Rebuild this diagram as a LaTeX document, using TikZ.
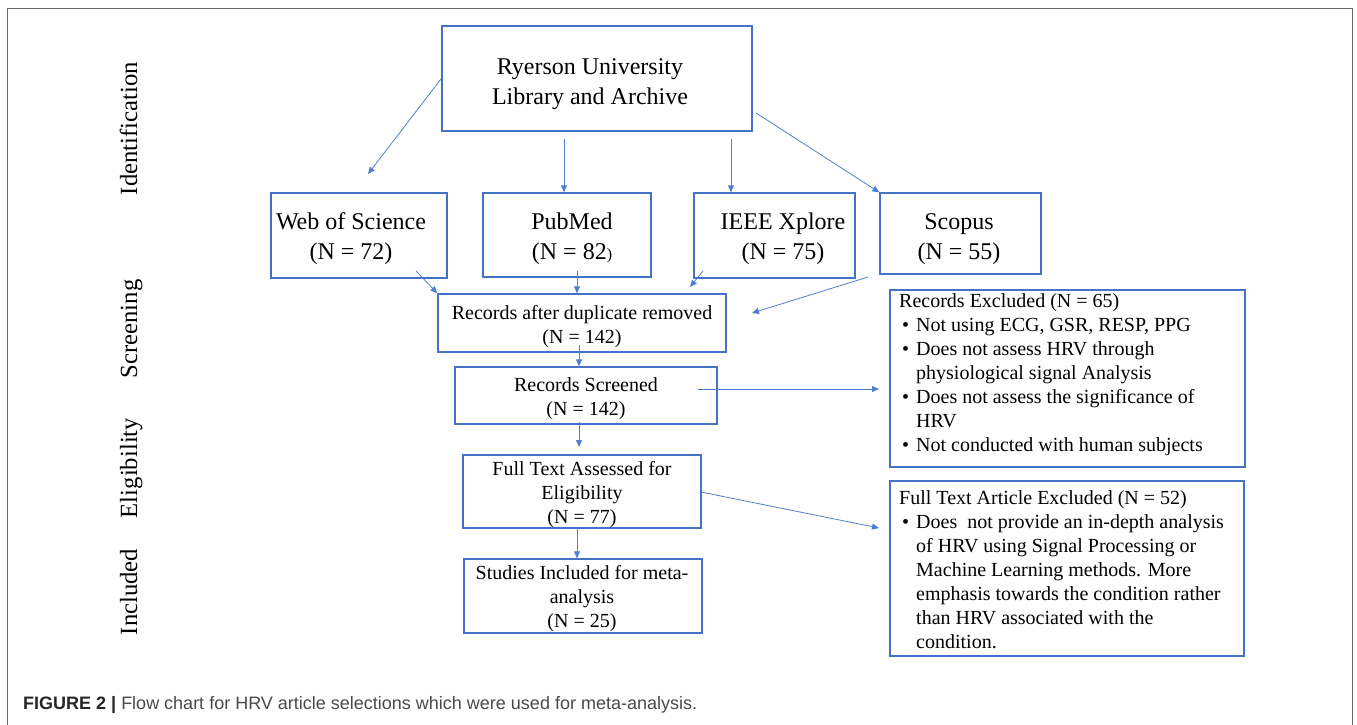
\documentclass[tikz,border=0pt]{standalone}
\usepackage{fontspec}
\setmainfont{Liberation Serif}
\newfontfamily\capfont{Liberation Sans}
\usetikzlibrary{arrows.meta}
\definecolor{boxblue}{HTML}{4472C4}
\definecolor{arrblue}{HTML}{4F7FD0}
\definecolor{framegray}{HTML}{6A6A6A}
\definecolor{capgray}{HTML}{4A4A4A}
\newcommand\mystrut[1]{\rule{0pt}{#1pt}}
\newcommand\bul{\makebox[17pt][l]{\hspace{3pt}•}}
\newcommand\ind{\hspace*{17pt}}
\begin{document}
\begin{tikzpicture}[x=1pt,y=-1pt,
  box/.style={draw=boxblue, line width=1.3pt, inner sep=0pt},
  arr/.style={draw=arrblue, line width=0.8pt, -{Triangle[length=7pt,width=6pt]}},
  frameline/.style={draw=framegray, line width=1pt},
  tbig/.style={font=\fontsize{24}{30}\selectfont, inner sep=0pt, anchor=north, align=center},
  tmid/.style={font=\fontsize{20}{24}\selectfont, inner sep=0pt, anchor=north, align=center},
  tlist/.style={font=\fontsize{20}{24}\selectfont, inner sep=0pt, anchor=north west, align=left},
  lab/.style={rotate=90, anchor=base, inner sep=0pt, font=\fontsize{24.7}{30}\selectfont}]
\useasboundingbox (0,0) rectangle (1357,724);
\fill[white] (0,0) rectangle (1357,724);
\draw[frameline] (7,726) -- (7,8) -- (1352,8) -- (1352,726);

% phase labels
\node[lab] (lid) at (137,128.5) {Identification};
\node[lab] (lsc) at (137,329) {Screening};
\node[lab] (lel) at (137,468) {Eligibility};
\node[lab] (lin) at (137,592) {Included};

% boxes
\node[box, minimum width=310pt, minimum height=105pt] (ry) at (597,78.5) {};
\node[box, minimum width=176pt, minimum height=85pt] (wos) at (359,235.5) {};
\node[box, minimum width=168pt, minimum height=84pt] (pub) at (567,235) {};
\node[box, minimum width=161pt, minimum height=85pt] (ieee) at (774.5,235.5) {};
\node[box, minimum width=161pt, minimum height=81pt] (sco) at (960.5,233.5) {};
\node[box, minimum width=288pt, minimum height=58pt] (dup) at (582,323) {};
\node[box, minimum width=262pt, minimum height=57pt] (scr) at (586,395.5) {};
\node[box, minimum width=238pt, minimum height=73pt] (fta) at (582,491.5) {};
\node[box, minimum width=238pt, minimum height=74pt] (inc) at (583,596) {};
\node[box, minimum width=355pt, minimum height=177pt] (rex) at (1067.5,378.5) {};
\node[box, minimum width=354pt, minimum height=175pt] (fex) at (1067,568.5) {};

% texts
\node[tbig] (ryt) at (590,55) {\mystrut{19}Ryerson University\\Library and Archive};
\node[tbig] (wost) at (351,210) {\mystrut{19}Web of Science\\(N = 72)};
\node[tbig] (pubt) at (572,210) {\mystrut{19}PubMed\\(N = 82{\fontsize{16}{16}\selectfont )}};
\node[tbig] (ieeet) at (783,210) {\mystrut{19}IEEE Xplore\\(N = 75)};
\node[tbig] (scot) at (959,210.5) {\mystrut{19}Scopus\\(N = 55)};
\node[tmid] (dupt) at (582,303) {\mystrut{16}Records after duplicate removed\\(N = 142)};
\node[tmid] (scrt) at (586,375) {\mystrut{16}Records Screened\\(N = 142)};
\node[tmid] (ftat) at (582,459) {\mystrut{16}Full Text Assessed for\\Eligibility\\(N = 77)};
\node[tmid] (inct) at (582,563) {\mystrut{16}Studies Included for meta-\\analysis\\(N = 25)};
\node[tlist] (rext) at (899,291) {\mystrut{16}Records Excluded (N = 65)\\
\bul Not using ECG, GSR, RESP, PPG\\
\bul Does not assess HRV through\\
\ind physiological signal Analysis\\
\bul Does not assess the significance of\\
\ind HRV\\
\bul Not conducted with human subjects};
\node[tlist] (fext) at (899,488) {\mystrut{16}Full Text Article Excluded (N = 52)\\
\bul Does\ \ not provide an in-depth analysis\\
\ind of HRV using Signal Processing or\\
\ind Machine Learning methods. More\\
\ind emphasis towards the condition rather\\
\ind than HRV associated with the\\
\ind condition.};

% free arrow ends
\coordinate (e1) at (368,174);
\coordinate (s2) at (564,139);
\coordinate (s3) at (731,139);
\coordinate (s4) at (756,113);
\coordinate (s5) at (416,271);
\coordinate (s6) at (577,271);
\coordinate (s7) at (703,271);
\coordinate (e7) at (690,287);
\coordinate (s8) at (868,277);
\coordinate (e8) at (752,313);
\coordinate (s9) at (579,345);
\coordinate (s10) at (698,389);
\coordinate (e10) at (879,389);
\coordinate (s11) at (579,422);
\coordinate (e11) at (579,447);
\coordinate (s12) at (577,528);
\coordinate (s13) at (701,492);
\coordinate (e13) at (879,528);

% connectors
\draw[arr] (ry.west) -- (e1);
\draw[arr] (s2) -- (pub.north -| s2);
\draw[arr] (s3) -- (ieee.north -| s3);
\draw[arr] (s4) -- (sco.north west);
\draw[arr] (s5) -- (dup.north west);
\draw[arr] (s6) -- (dup.north -| s6);
\draw[arr] (s7) -- (e7);
\draw[arr] (s8) -- (e8);
\draw[arr] (s9) -- (scr.north -| s9);
\draw[arr] (s10) -- (e10);
\draw[arr] (s11) -- (e11);
\draw[arr] (s12) -- (inc.north -| s12);
\draw[arr] (s13) -- (e13);

% caption
\node[anchor=base west, inner sep=0pt, font=\capfont\fontsize{18}{21}\selectfont, text=capgray] (cap) at (23,709)
  {{\bfseries\color{black!85}FIGURE 2 |} Flow chart for HRV article selections which were used for meta-analysis.};
\end{tikzpicture}
\end{document}
